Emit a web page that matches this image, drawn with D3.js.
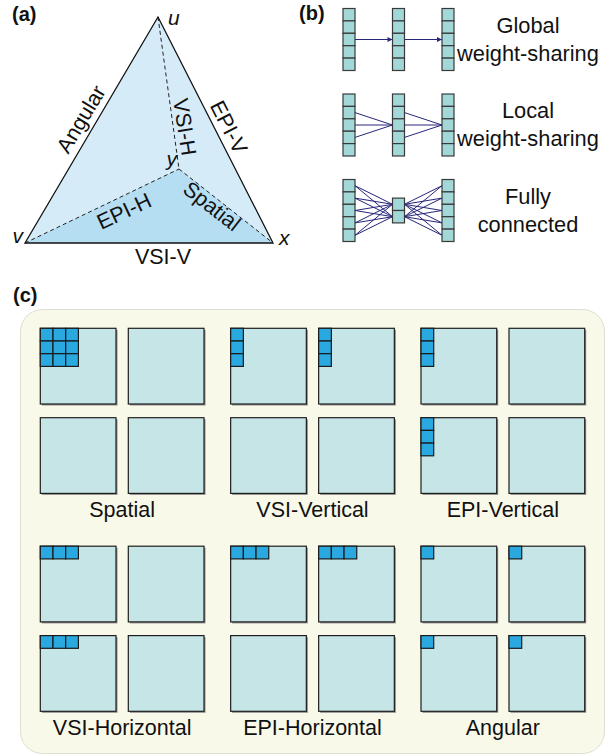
<!DOCTYPE html>
<html>
<head>
<meta charset="utf-8">
<script src="https://cdn.jsdelivr.net/npm/d3@7"></script>
<style>
  body { margin: 0; background: #fff; }
  svg { display: block; }
  text { font-family: 'Liberation Sans', Arial, sans-serif; fill: #111; }
</style>
</head>
<body>
<svg id="fig" width="616" height="756"></svg>
<script>
// panel (a): the 4D light field axes and the planes they span
const vertexNames = ['u', 'v', 'x', 'y']
const edgeLabels = ['Angular', 'EPI-V', 'VSI-V', 'VSI-H', 'EPI-H', 'Spatial']

// panel (b): three ways of connecting the layers
const netLines = [['Global', 'weight-sharing'], ['Local', 'weight-sharing'], ['Fully', 'connected']]
const netLayers = [[5, 5, 5], [5, 5, 5], [5, 2, 5]]
const netLinks = ['arrow', 'local', 'full']

// panel (c): filter shapes on a 2x2 set of views
const filterNames = ['Spatial', 'VSI-Vertical', 'EPI-Vertical', 'VSI-Horizontal', 'EPI-Horizontal', 'Angular']
const kernelRows = [3, 3, 3, 1, 1, 1]
const kernelCols = [3, 1, 1, 3, 3, 1]
const activeViews = [[0], [0, 1], [0, 2], [0, 2], [0, 1], [0, 1, 2, 3]]

const svg = d3.select('#fig')

// panel letters
svg.append('g')
  .selectAll('text')
  .data([['(a)', 12, 21], ['(b)', 299, 20], ['(c)', 13, 302]])
  .join('text')
  .attr('x', d => d[1])
  .attr('y', d => d[2])
  .attr('font-size', 20)
  .attr('font-weight', 'bold')
  .text(d => d[0])

// ---------- (a) ----------
const pos = { u: [158, 17], v: [25, 243], x: [273, 243], y: [179, 169] }
const line = d3.line()
const a = svg.append('g').attr('id', 'panel-a')

a.append('path')
  .attr('d', line([pos.u, pos.v, pos.x]) + 'Z')
  .attr('fill', '#d5ebf8')
a.append('path')
  .attr('d', line([pos.v, pos.y, pos.x]) + 'Z')
  .attr('fill', '#b5def3')

a.append('g')
  .selectAll('path')
  .data([['u', 'y'], ['v', 'y'], ['y', 'x']])
  .join('path')
  .attr('d', d => line(d.map(k => pos[k])))
  .attr('fill', 'none')
  .attr('stroke', '#222')
  .attr('stroke-width', 1)
  .attr('stroke-dasharray', '4,3')

a.append('path')
  .attr('d', line([pos.u, pos.v, pos.x]) + 'Z')
  .attr('fill', 'none')
  .attr('stroke', '#111')
  .attr('stroke-width', 1.3)
  .attr('stroke-linejoin', 'miter')

// vertex letters
const vertexAnchor = {
  u: [168, 25, 'start'],
  v: [23, 243, 'end'],
  x: [279, 245, 'start'],
  y: [177, 166, 'end'],
}
a.append('g')
  .selectAll('text')
  .data(vertexNames)
  .join('text')
  .attr('x', d => vertexAnchor[d][0])
  .attr('y', d => vertexAnchor[d][1])
  .attr('text-anchor', d => vertexAnchor[d][2])
  .attr('font-size', 21)
  .attr('font-style', 'italic')
  .text(d => d)

// plane labels along the edges
const edgePlace = {
  Angular: [81, 119, -59],
  'EPI-V': [229, 127, 63],
  'VSI-V': [163, 256, 0],
  'VSI-H': [185, 127, 81],
  'EPI-H': [124, 211, -25],
  Spatial: [212, 206, 38],
}
a.append('g')
  .selectAll('text')
  .data(edgeLabels)
  .join('text')
  .attr('transform', d => `translate(${edgePlace[d][0]},${edgePlace[d][1]}) rotate(${edgePlace[d][2]})`)
  .attr('text-anchor', 'middle')
  .attr('dy', '0.35em')
  .attr('font-size', 21.5)
  .text(d => d)

// ---------- (b) ----------
const b = svg.append('g').attr('id', 'panel-b')
const colW = 12
const cellH = 12.4
const xCol = d3.scalePoint().domain([0, 1, 2]).range([343, 442])
const yRow = d3.scalePoint().domain([0, 1, 2]).range([39.5, 210.5])
const cellY = (r, c, i) => yRow(r) - (netLayers[r][c] * cellH) / 2 + (i + 0.5) * cellH

b.append('defs')
  .append('marker')
  .attr('id', 'head')
  .attr('viewBox', '0 0 10 10')
  .attr('refX', 10)
  .attr('refY', 5)
  .attr('markerWidth', 6)
  .attr('markerHeight', 5)
  .attr('orient', 'auto')
  .attr('markerUnits', 'userSpaceOnUse')
  .append('path')
  .attr('d', 'M0,0L10,5L0,10Z')
  .attr('fill', '#26267a')

const links = []
netLinks.forEach((type, r) => {
  for (let c = 0; c < 2; c++) {
    const nA = netLayers[r][c]
    const nB = netLayers[r][c + 1]
    if (type === 'arrow') {
      links.push({ r, c, i: 2, j: 2, arrow: true })
    } else if (type === 'local') {
      ;[1, 2, 3].forEach(i => links.push({ r, c, i, j: 2 }))
    } else {
      for (let i = 0; i < nA; i++) for (let j = 0; j < nB; j++) links.push({ r, c, i, j })
    }
  }
})

b.append('g')
  .selectAll('line')
  .data(links)
  .join('line')
  .attr('x1', d => xCol(d.c) + colW)
  .attr('y1', d => cellY(d.r, d.c, d.i))
  .attr('x2', d => xCol(d.c + 1))
  .attr('y2', d => cellY(d.r, d.c + 1, d.j))
  .attr('stroke', '#26267a')
  .attr('stroke-width', 1)
  .attr('marker-end', d => (d.arrow ? 'url(#head)' : null))

const cells = []
netLayers.forEach((layers, r) =>
  layers.forEach((n, c) => d3.range(n).forEach(i => cells.push({ r, c, i })))
)
b.append('g')
  .selectAll('rect')
  .data(cells)
  .join('rect')
  .attr('x', d => xCol(d.c))
  .attr('y', d => cellY(d.r, d.c, d.i) - cellH / 2)
  .attr('width', colW)
  .attr('height', cellH)
  .attr('fill', '#a2d8d8')
  .attr('stroke', '#3a3a3a')
  .attr('stroke-width', 1.2)

const netText = b.append('g')
  .selectAll('text')
  .data(netLines)
  .join('text')
  .attr('text-anchor', 'middle')
  .attr('font-size', 21.8)
netText.selectAll('tspan')
  .data((d, r) => d.map((s, k) => ({ s, k, r })))
  .join('tspan')
  .attr('x', 528)
  .attr('y', d => yRow(d.r) - 7 + d.k * 28)
  .text(d => d.s)

// ---------- (c) ----------
const c = svg.append('g').attr('id', 'panel-c')
c.append('rect')
  .attr('x', 20.5)
  .attr('y', 309.5)
  .attr('width', 584)
  .attr('height', 444)
  .attr('rx', 22)
  .attr('fill', '#f9f9ea')
  .attr('stroke', '#deded2')
  .attr('stroke-width', 1)

const viewSize = 75.7
const viewStepX = 88
const viewStepY = 89.4
const kCell = 12.7
const xGroup = d3.scalePoint().domain([0, 1, 2]).range([40.3, 421])
const yBlock = d3.scalePoint().domain([0, 1]).range([328.3, 546.2])

const groups = c.selectAll('g.filter')
  .data(filterNames.map((name, g) => ({ name, g })))
  .join('g')
  .attr('class', 'filter')
  .attr('transform', d => `translate(${xGroup(d.g % 3)},${yBlock(Math.floor(d.g / 3))})`)

const views = groups.selectAll('g.view')
  .data(d => d3.range(4).map(v => ({ v, g: d.g, on: activeViews[d.g].includes(v) })))
  .join('g')
  .attr('class', 'view')
  .attr('transform', d => `translate(${(d.v % 2) * viewStepX},${Math.floor(d.v / 2) * viewStepY})`)

views.append('rect')
  .attr('x', 1.5)
  .attr('y', 1.5)
  .attr('width', viewSize)
  .attr('height', viewSize)
  .attr('fill', '#8c8c8c')
views.append('rect')
  .attr('width', viewSize)
  .attr('height', viewSize)
  .attr('fill', '#c6e5e7')
  .attr('stroke', '#1e1e1e')
  .attr('stroke-width', 1.2)

views.filter(d => d.on)
  .selectAll('rect.k')
  .data(d => d3.cross(d3.range(kernelRows[d.g]), d3.range(kernelCols[d.g])))
  .join('rect')
  .attr('class', 'k')
  .attr('x', d => d[1] * kCell)
  .attr('y', d => d[0] * kCell)
  .attr('width', kCell)
  .attr('height', kCell)
  .attr('fill', '#2aa9e1')
  .attr('stroke', '#1a1a1a')
  .attr('stroke-width', 1.2)

groups.append('text')
  .attr('x', (viewStepX + viewSize) / 2)
  .attr('y', 189)
  .attr('text-anchor', 'middle')
  .attr('font-size', 21.5)
  .text(d => d.name)
</script>
</body>
</html>
